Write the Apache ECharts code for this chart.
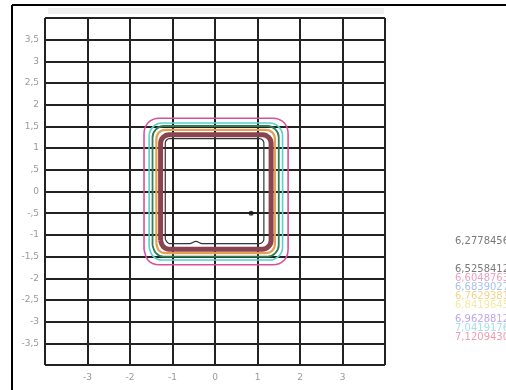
<!DOCTYPE html>
<html>
<head>
<meta charset="utf-8">
<script src="https://cdn.jsdelivr.net/npm/echarts@6/dist/echarts.min.js"></script>
<style>
  html, body { margin: 0; padding: 0; background: #fff; }
  #chart { width: 506px; height: 390px; }
</style>
</head>
<body>
<div id="chart"></div>
<script>
// Contour outlines, traced as closed polygons (x, y)
const contourPink = [[-1.67,-1.33],[-1.67,1.33],[-1.57,1.59],[-1.31,1.69],[1.36,1.69],[1.62,1.59],[1.72,1.33],[1.72,-1.33],[1.62,-1.59],[1.36,-1.69],[-1.31,-1.69],[-1.57,-1.59],[-1.67,-1.33]];
const contourCyan = [[-1.55,-1.28],[-1.55,1.28],[-1.46,1.49],[-1.25,1.58],[1.29,1.58],[1.50,1.49],[1.59,1.28],[1.59,-1.28],[1.50,-1.49],[1.29,-1.58],[-1.25,-1.58],[-1.46,-1.49],[-1.55,-1.28]];
const contourGreen = [[-1.47,-1.24],[-1.47,1.25],[-1.39,1.43],[-1.21,1.51],[1.24,1.51],[1.42,1.43],[1.50,1.25],[1.50,-1.24],[1.42,-1.42],[1.24,-1.50],[-1.21,-1.50],[-1.39,-1.42],[-1.47,-1.24]];
const contourOrange = [[-1.38,-1.20],[-1.38,1.20],[-1.32,1.36],[-1.16,1.42],[1.19,1.42],[1.35,1.36],[1.41,1.20],[1.41,-1.20],[1.35,-1.36],[1.19,-1.42],[-1.16,-1.42],[-1.32,-1.36],[-1.38,-1.20]];
const contourBrown = [[-1.28,-1.13],[-1.28,1.11],[-1.22,1.25],[-1.08,1.31],[1.12,1.31],[1.26,1.25],[1.32,1.11],[1.32,-1.13],[1.26,-1.27],[1.12,-1.33],[-1.08,-1.33],[-1.22,-1.27],[-1.28,-1.13]];
const contourInner = [[-1.17,-1.10],[-1.17,1.12],[-1.07,1.22],[1.05,1.22],[1.15,1.12],[1.15,-1.10],[1.05,-1.20],[-0.30,-1.20],[-0.45,-1.15],[-0.60,-1.20],[-1.07,-1.20],[-1.17,-1.10]];
const markerPoint = [[0.85, -0.5]];

// Level legend entries (text, colour)
const levelLabels = ["6,2778456", "6,5258412", "6,6048763", "6,6839027", "6,7629381", "6,8419645", "6,9628812", "7,0419176", "7,1209430"];
const levelColors = ["#7a7a7a", "#7a7a7a", "#f0a0c0", "#a4c4f0", "#f2d488", "#f4eaa8", "#c0a8ec", "#a4e0ea", "#f09cb0"];
const levelY = [242, 270, 279, 288, 297, 306, 320, 329, 338];

// Axis ranges and tick spacing
const xRange = [-4, 4], xStep = 1;
const yRange = [-4, 4], yStep = 0.5;

function fmt(v) {
  if (Math.abs(v) >= 4) return '';
  return String(v).replace('0.', '.').replace('.', ',');
}

const lineSeries = (data, color, width) => ({
  type: 'line', data, showSymbol: false, symbol: 'none', silent: true, smooth: 0.35,
  lineStyle: { color, width }, z: 3
});

const chart = echarts.init(document.getElementById('chart'), null, { renderer: 'canvas' });
chart.setOption({
  animation: false,
  backgroundColor: '#fff',
  grid: { left: 45, right: 121, top: 18, bottom: 25 },
  xAxis: {
    type: 'value', min: xRange[0], max: xRange[1], interval: xStep,
    axisLine: { show: true, lineStyle: { color: '#222', width: 2 } },
    axisTick: { show: true, length: 4, lineStyle: { color: '#222', width: 2 } },
    axisLabel: { color: '#999', fontSize: 9, fontFamily: 'DejaVu Sans', margin: 8, formatter: fmt },
    splitLine: { show: true, lineStyle: { color: '#222', width: 2 } }
  },
  yAxis: {
    type: 'value', min: yRange[0], max: yRange[1], interval: yStep,
    axisLine: { show: true, lineStyle: { color: '#222', width: 2 } },
    axisTick: { show: true, length: 4, lineStyle: { color: '#222', width: 2 } },
    axisLabel: { color: '#999', fontSize: 9, fontFamily: 'DejaVu Sans', margin: 6, formatter: fmt },
    splitLine: { show: true, lineStyle: { color: '#222', width: 2 } }
  },
  series: [
    lineSeries(contourPink, '#d9509a', 1.6),
    lineSeries(contourCyan, '#5ccfc8', 1.6),
    lineSeries(contourGreen, '#2f7f55', 1.8),
    lineSeries(contourOrange, '#e8a050', 2.2),
    lineSeries(contourBrown, '#8a4450', 5),
    lineSeries(contourInner, '#333', 1.2),
    { type: 'scatter', data: markerPoint, symbolSize: 5, itemStyle: { color: '#111' }, z: 4 }
  ],
  graphic: [
    { type: 'line', shape: { x1: 12, y1: 5, x2: 506, y2: 5 }, style: { stroke: '#000', lineWidth: 2 } },
    { type: 'line', shape: { x1: 12, y1: 5, x2: 12, y2: 390 }, style: { stroke: '#000', lineWidth: 2 } },
    { type: 'rect', shape: { x: 48, y: 8, width: 336, height: 6 }, style: { fill: '#f0f0f0' }, z: -1 }
  ].concat(levelLabels.map((t, i) => ({
    type: 'text', left: 455, top: levelY[i] - 6,
    style: { text: t, fill: levelColors[i], font: '10px "DejaVu Sans"' }
  })))
});
</script>
</body>
</html>
